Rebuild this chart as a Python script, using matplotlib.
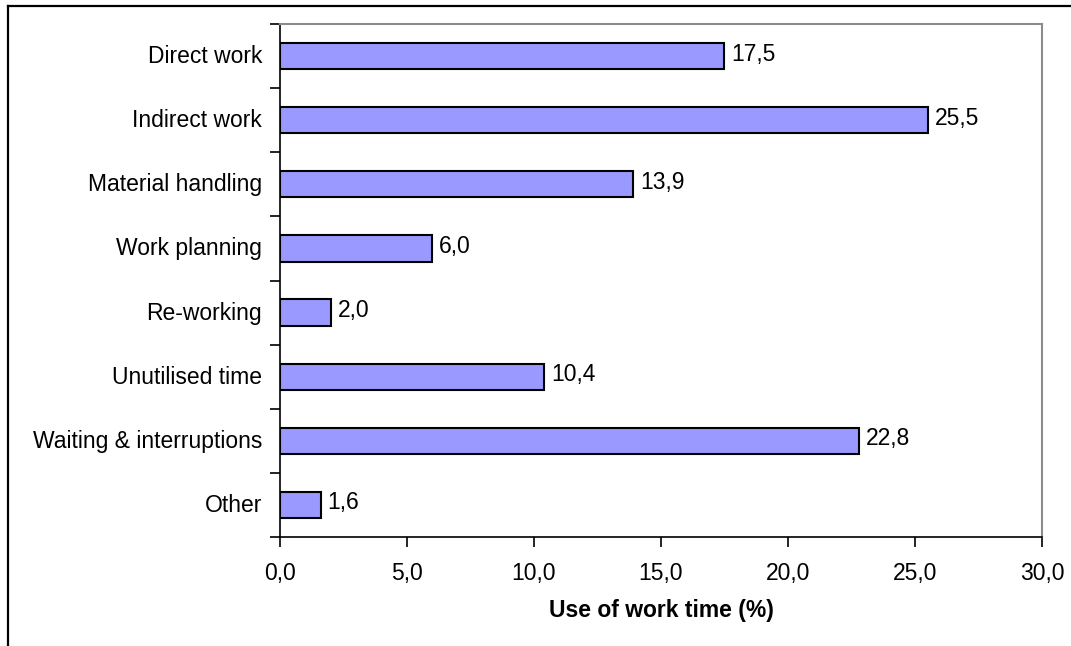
import numpy as np
import matplotlib.pyplot as plt
from matplotlib.lines import Line2D
from matplotlib.transforms import ScaledTranslation

plt.rcParams['font.family'] = ['Liberation Sans', 'DejaVu Sans']

# Use of work time by activity
activities = ['Direct work', 'Indirect work', 'Material handling', 'Work planning',
              'Re-working', 'Unutilised time', 'Waiting & interruptions', 'Other']
share = [17.5, 25.5, 13.9, 6.0, 2.0, 10.4, 22.8, 1.6]
xticks = [0, 5, 10, 15, 20, 25, 30]

fs = 16.5

fig = plt.figure(figsize=(10.71, 6.46), dpi=100)
ax = fig.add_axes([0.2614, 0.1687, 0.7115, 0.7941])

y = np.arange(len(activities))
bars = ax.barh(y, share, height=0.41, color='#9999FF', edgecolor='black', linewidth=1.5)

for yi, v in zip(y, share):
    ax.annotate(f'{v:.1f}'.replace('.', ','), (v, yi), xytext=(5, 1.5),
                textcoords='offset points', va='center', ha='left', fontsize=fs)

ax.set_ylim(len(activities) - 0.5, -0.5)
ax.set_xlim(0, 30)

ax.set_yticks(y)
ax.set_yticklabels(activities, fontsize=fs)
ax.set_yticks(np.arange(len(activities) + 1) - 0.5, minor=True)
ax.tick_params(axis='y', which='major', length=0, pad=13)
ax.tick_params(axis='y', which='minor', length=7, width=1.2, direction='out')

# nudge category labels up a touch
shift = ScaledTranslation(0, 2 / 100, fig.dpi_scale_trans)
for lab in ax.get_yticklabels():
    lab.set_transform(lab.get_transform() + shift)

ax.set_xticks(xticks)
ax.set_xticklabels([f'{t:.1f}'.replace('.', ',') for t in xticks], fontsize=fs)
ax.tick_params(axis='x', length=7, width=1.2, direction='out', pad=11)
ax.set_xlabel('Use of work time (%)', fontsize=fs, fontweight='bold', labelpad=10)

for side in ('top', 'right'):
    ax.spines[side].set_color('#8c8c8c')
    ax.spines[side].set_linewidth(1.5)
for side in ('left', 'bottom'):
    ax.spines[side].set_color('black')
    ax.spines[side].set_linewidth(1.2)

# outer frame
fig.add_artist(Line2D([8 / 1071, 8 / 1071], [0, 1 - 6 / 646], transform=fig.transFigure,
                      color='black', linewidth=1.6))
fig.add_artist(Line2D([8 / 1071, 1], [1 - 6 / 646, 1 - 6 / 646], transform=fig.transFigure,
                      color='black', linewidth=1.6))

fig.savefig('out.png', dpi=100)
